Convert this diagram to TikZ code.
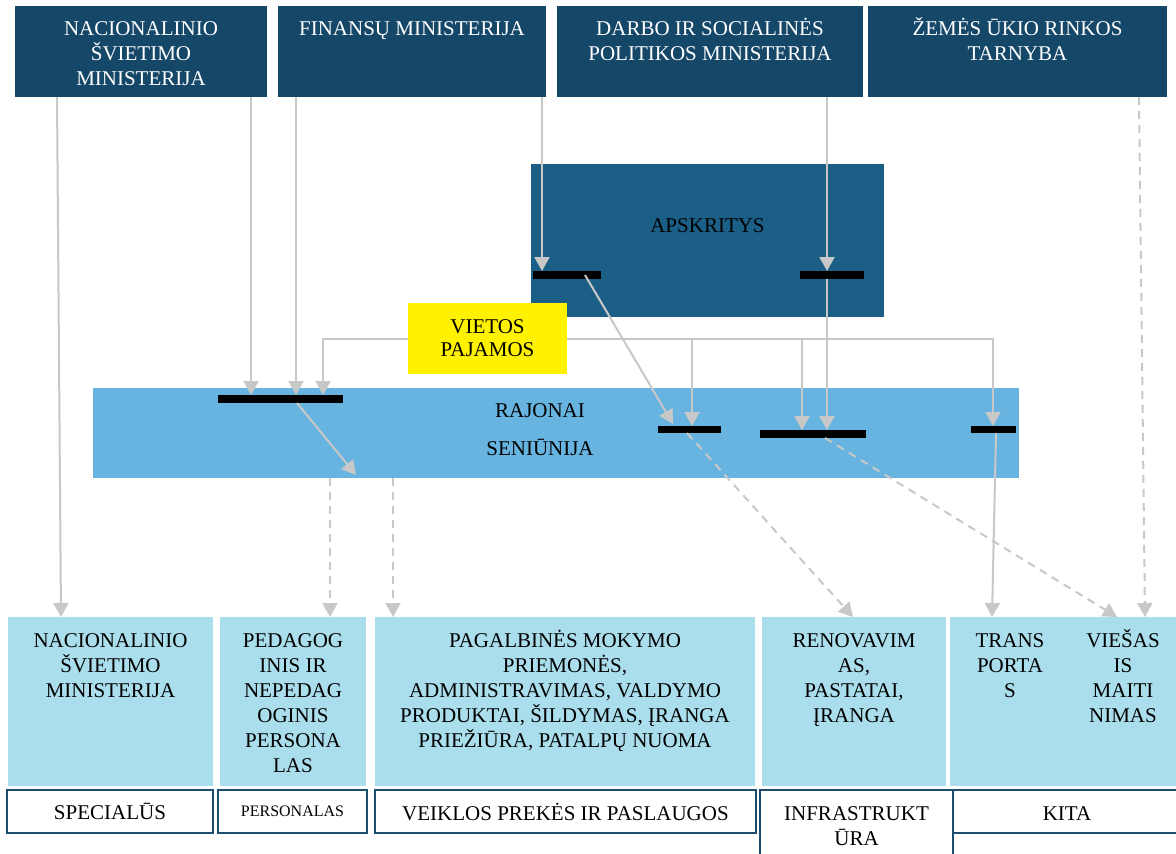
\documentclass[tikz,border=0pt]{standalone}
\usepackage{fontspec}
\setmainfont{Liberation Serif}
\usetikzlibrary{arrows.meta}
\definecolor{topnavy}{HTML}{154768}
\definecolor{apskblue}{HTML}{1B5F87}
\definecolor{rajblue}{HTML}{68B4E0}
\definecolor{lowblue}{HTML}{AADEEC}
\definecolor{arrgray}{HTML}{C8C8C8}
\definecolor{tagframe}{HTML}{1D4D6E}
\newcommand{\tstrut}{\rule{0pt}{20pt}}
\tikzset{
    box/.style={anchor=north west, inner sep=0pt, outer sep=0pt},
    topbox/.style={box, fill=topnavy, minimum height=91pt},
    lowbox/.style={box, fill=lowblue, minimum height=169pt},
    tagbox/.style={box, draw=tagframe, line width=2pt, fill=white, font=\fontsize{21}{25}\selectfont},
    txt/.style={anchor=north, align=center, inner sep=0pt, font=\fontsize{21}{25}\selectfont},
    bar/.style={box, fill=black, minimum height=8pt},
    arr/.style={draw=arrgray, line width=2pt, -{Triangle[length=14pt,width=15pt]}},
    darr/.style={arr, dash pattern=on 8pt off 6pt},
}
\begin{document}
\begin{tikzpicture}[x=1pt,y=-1pt]
    \clip (0,0) rectangle (1176,854);
    %draw top boxes
    \node[topbox, minimum width=252pt] (nsm) at (15,6) {};
    \node[topbox, minimum width=268pt] (fin) at (278,6) {};
    \node[topbox, minimum width=306pt] (dsp) at (557,6) {};
    \node[topbox, minimum width=299pt] (zur) at (868,6) {};
    \node[txt, text=white] (nsmT) at ([yshift=-9pt]nsm.north) {\tstrut NACIONALINIO\\ŠVIETIMO\\MINISTERIJA};
    \node[txt, text=white] (finT) at ([yshift=-9pt]fin.north) {\tstrut FINANSŲ MINISTERIJA};
    \node[txt, text=white] (dspT) at ([yshift=-9pt]dsp.north) {\tstrut DARBO IR SOCIALINĖS\\POLITIKOS MINISTERIJA};
    \node[txt, text=white] (zurT) at ([yshift=-9pt]zur.north) {\tstrut ŽEMĖS ŪKIO RINKOS\\TARNYBA};
    %draw middle levels
    \node[box, fill=apskblue, minimum width=353pt, minimum height=153pt] (apsk) at (531,164) {};
    \node[txt] (apskT) at ([yshift=-48pt]apsk.north) {\tstrut APSKRITYS};
    \node[box, fill=rajblue, minimum width=926pt, minimum height=90pt] (raj) at (93,388) {};
    \node[txt] (rajT) at ([xshift=-16pt,yshift=-9pt]raj.north) {\tstrut RAJONAI\\[13pt]SENIŪNIJA};
    \node[fill=yellow, minimum width=159pt, minimum height=71pt, inner sep=0pt, align=center,
          font=\fontsize{21}{23}\selectfont] (vp) at (487.5,338.5) {VIETOS\\PAJAMOS};
    %draw bottom boxes
    \node[lowbox, minimum width=205pt] (lnsm) at (8,617) {};
    \node[lowbox, minimum width=146pt] (lped) at (220,617) {};
    \node[lowbox, minimum width=380pt] (lpag) at (375,617) {};
    \node[lowbox, minimum width=184pt] (lren) at (762,617) {};
    \node[lowbox, minimum width=230pt] (ltra) at (950,617) {};
    \node[txt] (lnsmT) at ([yshift=-10pt]lnsm.north) {\tstrut NACIONALINIO\\ŠVIETIMO\\MINISTERIJA};
    \node[txt] (lpedT) at ([yshift=-10pt]lped.north) {\tstrut PEDAGOG\\INIS IR\\NEPEDAG\\OGINIS\\PERSONA\\LAS};
    \node[txt] (lpagT) at ([yshift=-10pt]lpag.north) {\tstrut PAGALBINĖS MOKYMO\\PRIEMONĖS,\\ADMINISTRAVIMAS, VALDYMO\\PRODUKTAI, ŠILDYMAS, ĮRANGA\\PRIEŽIŪRA, PATALPŲ NUOMA};
    \node[txt] (lrenT) at ([yshift=-10pt]lren.north) {\tstrut RENOVAVIM\\AS,\\PASTATAI,\\ĮRANGA};
    \node[txt] (ltraT) at ([xshift=-55pt,yshift=-10pt]ltra.north) {\tstrut TRANS\\PORTA\\S};
    \node[txt] (lvieT) at ([xshift=58pt,yshift=-10pt]ltra.north) {\tstrut VIEŠAS\\IS\\MAITI\\NIMAS};
    %draw tags
    \node[tagbox, minimum width=206pt, minimum height=43pt] (tspec) at (7,790) {SPECIALŪS};
    \node[tagbox, minimum width=149pt, minimum height=43pt, font=\fontsize{16}{20}\selectfont] (tpers) at (218,790) {PERSONALAS};
    \node[tagbox, minimum width=381pt, minimum height=43pt] (tveik) at (375,790) {VEIKLOS PREKĖS IR PASLAUGOS};
    \node[tagbox, minimum width=193pt, minimum height=90pt] (tinfra) at (760,790) {};
    \node[txt] (tinfraT) at ([yshift=-10pt]tinfra.north) {\tstrut INFRASTRUKT\\ŪRA};
    \node[tagbox, minimum width=240pt, minimum height=43pt] (tkita) at (953,790) {};
    \node[txt] (tkitaT) at ([xshift=-6pt,yshift=-10pt]tkita.north) {\tstrut KITA};
    %draw bars
    \node[bar, minimum width=68pt] (apbarL) at (533,271) {};
    \node[bar, minimum width=64pt] (apbarR) at (800,271) {};
    \node[bar, minimum width=125pt] (rbar1) at (218,395) {};
    \node[bar, minimum width=63pt, minimum height=7pt] (rbar2) at (658,426) {};
    \node[bar, minimum width=106pt] (rbar3) at (760,430) {};
    \node[bar, minimum width=45pt, minimum height=7pt] (rbar4) at (971,426) {};
    %draw arrows from ministries
    \draw[arr] (nsm.south -| 57,0) -- (lnsm.north -| 61,0);
    \draw[arr] (nsm.south -| 251,0) -- (rbar1.north -| 251,0);
    \draw[arr] (fin.south -| 296,0) -- (rbar1.north -| 296,0);
    \draw[arr] (dsp.south -| 542,0) -- (apbarL.north -| 542,0);
    \draw[arr] (dsp.south -| 827,0) -- (apbarR.north -| 827,0);
    \draw[darr] (zur.south -| 1139,0) -- (ltra.north -| 1145,0);
    %draw arrows from vietos pajamos
    \draw[arr] (vp.west) -| (rbar1.north -| 323,0);
    \draw[arr] (vp.east) -| (rbar4.north -| 993,0);
    \draw[arr] (vp.east -| 692,0) -- (rbar2.north -| 692,0);
    \draw[arr] (vp.east -| 802,0) -- (rbar3.north -| 802,0);
    %draw arrows between levels
    \draw[arr] (apbarL.center -| 585,0) -- ([yshift=2pt]rbar2.north -| 673,0);
    \draw[arr] (apbarR.south -| 827,0) -- (rbar3.north -| 827,0);
    \draw[arr] (rbar1.south -| 297,0) -- ([yshift=3pt]raj.south -| 356,0);
    \draw[darr] (raj.south -| 330,0) -- (lped.north -| 330,0);
    \draw[darr] (raj.south -| 393,0) -- (lpag.north -| 393,0);
    \draw[darr] (rbar2.south -| 687,0) -- (lren.north -| 853,0);
    \draw[darr] (rbar3.south -| 825,0) -- (ltra.north -| 1117,0);
    \draw[arr] (rbar4.south -| 996,0) -- (ltra.north -| 992,0);
\end{tikzpicture}
\end{document}
